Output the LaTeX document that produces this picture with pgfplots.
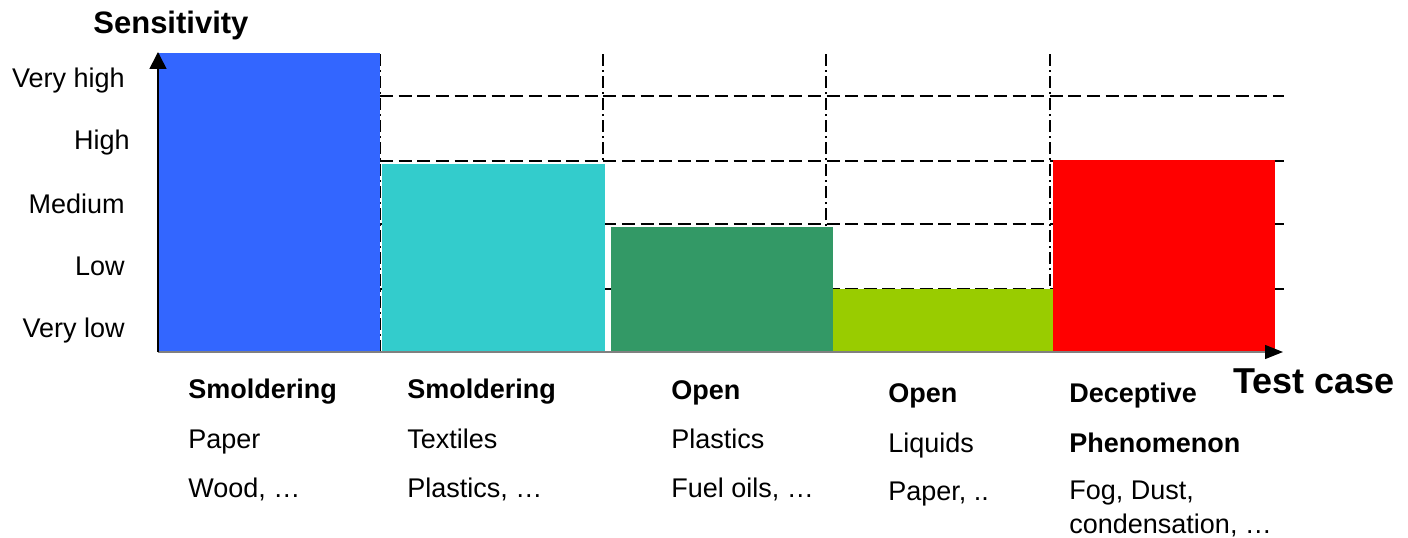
\documentclass[border=0pt]{standalone}
\usepackage{fontspec}
\setmainfont{Liberation Sans}
\usepackage{pgfplots}
\pgfplotsset{compat=1.18}
\usetikzlibrary{arrows.meta}
\definecolor{cBlue}{HTML}{3366FF}
\definecolor{cCyan}{HTML}{33CCCC}
\definecolor{cGreen}{HTML}{339966}
\definecolor{cLime}{HTML}{99CC00}
\definecolor{cRed}{HTML}{FF0000}
\begin{document}
\begin{tikzpicture}
\path[use as bounding box] (0,0) rectangle (704pt,268.5pt);
\begin{axis}[
  at={(79pt,92.5pt)}, anchor=south west,
  scale only axis, width=562.5pt, height=150pt,
  xmin=0, xmax=5.045, ymin=0, ymax=4.6875,
  enlargelimits=false, clip=false,
  axis line style={draw=none},
  xtick=\empty,
  ytick={0.234,1.20,2.17,3.164,4.14},
  yticklabels={Very low,Low,Medium,{High\hspace*{-2.5pt}},Very high},
  major tick length=0pt,
  yticklabel style={anchor=base east, inner sep=0pt, xshift=-16.5pt,
    font=\fontsize{13.5}{16}\selectfont},
]
% grid lines (behind bars)
\foreach \yy in {0.984,2.0,2.99,4.0} {
  \edef\temp{\noexpand\draw[black, line width=0.9pt, dash pattern=on 6.5pt off 2.8pt]
    (axis cs:0.996,\yy) -- (axis cs:5.05,\yy);}
  \temp
}
\foreach \xx in {0.996,1.995,2.996,4.0} {
  \edef\temp{\noexpand\draw[black, line width=0.9pt, dash pattern=on 6pt off 2pt on 1pt off 2pt]
    (axis cs:\xx,0) -- (axis cs:\xx,4.6875);}
  \temp
}
% bars
\addplot[fill=cBlue, draw=none] coordinates {(0,4.67) (0.995,4.67)} \closedcycle;
\addplot[fill=cCyan, draw=none] coordinates {(1.004,2.94) (2.003,2.94)} \closedcycle;
\addplot[fill=cGreen, draw=none] coordinates {(2.03,1.95) (3.025,1.95)} \closedcycle;
\addplot[fill=cLime, draw=none] coordinates {(3.025,0.98) (4.012,0.98)} \closedcycle;
\addplot[fill=cRed, draw=none] coordinates {(4.012,3.0) (5.009,3.0)} \closedcycle;
% axes
\draw[gray, line width=0.6pt, -{Triangle[black,length=9pt,width=7pt]}] (axis cs:0,0) -- (axis cs:5.045,0);
\draw[black, line width=0.8pt, -{Triangle[length=8.5pt,width=8.5pt]}] (axis cs:0,0) -- (axis cs:0,4.6875);
\end{axis}
\begin{scope}[x=0.5pt,y=-0.5pt,yshift=268.5pt]
\tikzset{lbl/.style={anchor=base west, inner sep=0pt, font=\fontsize{13.5}{16}\selectfont}}
\node[anchor=base west, inner sep=0pt, font=\fontsize{15.5}{18}\selectfont\bfseries] at (93,34) {Sensitivity};
\node[anchor=base west, inner sep=0pt, font=\fontsize{18}{21}\selectfont\bfseries] at (1233,393) {Test case};
% column 1
\node[lbl, font=\fontsize{13.5}{16}\selectfont\bfseries] at (188,398) {Smoldering};
\node[lbl] at (188,448) {Paper};
\node[lbl] at (188,497) {Wood, …};
% column 2
\node[lbl, font=\fontsize{13.5}{16}\selectfont\bfseries] at (407,398) {Smoldering};
\node[lbl] at (407,448) {Textiles};
\node[lbl] at (407,497) {Plastics, …};
% column 3
\node[lbl, font=\fontsize{13.5}{16}\selectfont\bfseries] at (671,399) {Open};
\node[lbl] at (671,448) {Plastics};
\node[lbl] at (671,497) {Fuel oils, …};
% column 4
\node[lbl, font=\fontsize{13.5}{16}\selectfont\bfseries] at (888,402) {Open};
\node[lbl] at (888,452) {Liquids};
\node[lbl] at (888,500) {Paper, ..};
% column 5
\node[lbl, font=\fontsize{13.5}{16}\selectfont\bfseries] at (1069,402) {Deceptive};
\node[lbl, font=\fontsize{13.5}{16}\selectfont\bfseries] at (1069,452) {Phenomenon};
\node[lbl] at (1069,499) {Fog, Dust,};
\node[lbl] at (1069,533) {condensation, …};
\end{scope}
\end{tikzpicture}
\end{document}
